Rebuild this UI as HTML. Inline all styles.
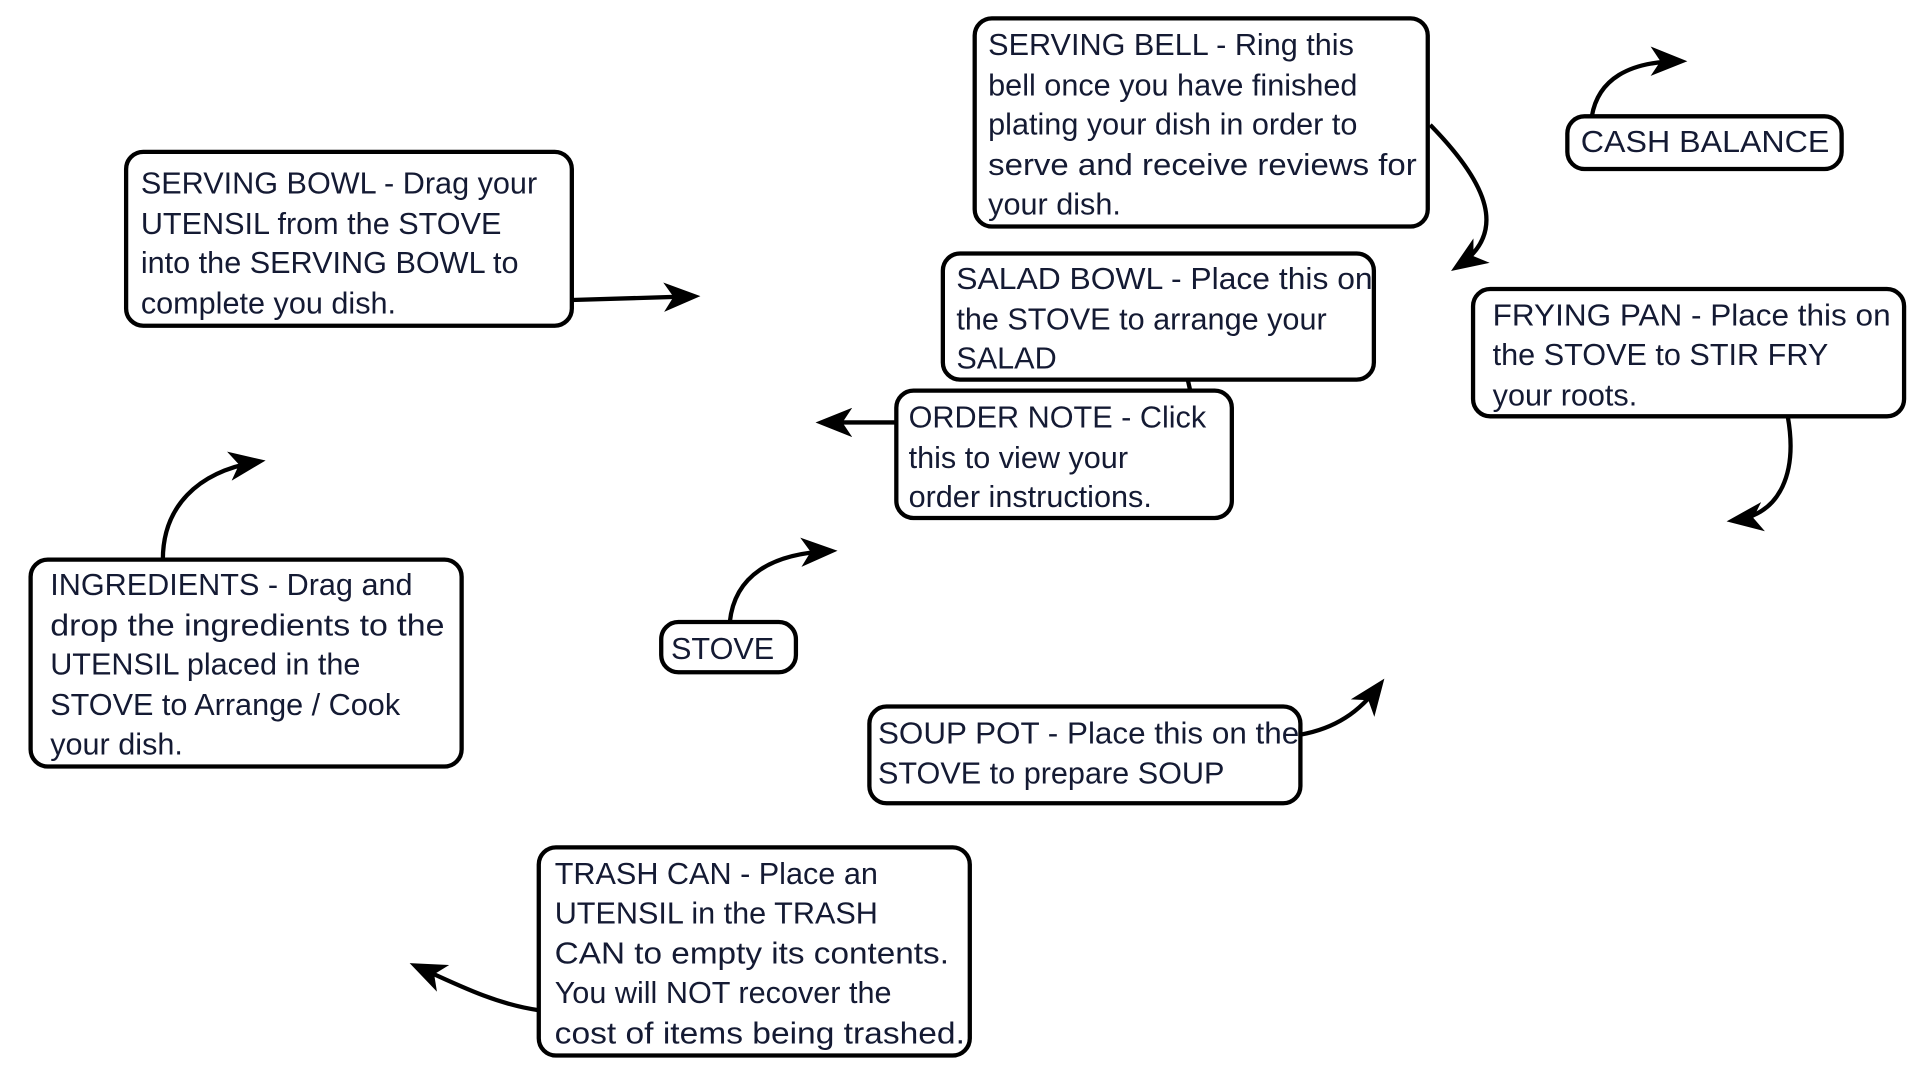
<!DOCTYPE html>
<html><head><meta charset="utf-8"><style>
html,body{margin:0;padding:0;background:#fff;width:1920px;height:1080px;overflow:hidden}
svg{display:block}
text{font-family:"Liberation Sans",sans-serif;font-size:25px;fill:#141a33}
rect{fill:#fff;stroke:#000;stroke-width:3.5}
path.c{fill:none;stroke:#000;stroke-width:3.5}
</style></head><body>
<svg width="1920" height="1080" viewBox="0 0 1568 882" preserveAspectRatio="none">
<defs>
<marker id="a" viewBox="0 0 30 24" refX="24" refY="12" markerWidth="30" markerHeight="24" markerUnits="userSpaceOnUse" orient="auto">
<path d="M0,0 L30,12 L0,24 L8,12 Z" fill="#000"/>
</marker>
</defs>
<path class="c" d="M467,245 L566,242" marker-end="url(#a)"/>
<path class="c" d="M1168,102 C1215,150 1232,190 1190,218" marker-end="url(#a)"/>
<path class="c" d="M1300,95 C1305,65 1330,50 1372,50" marker-end="url(#a)"/>
<path class="c" d="M970,310 L972,319"/>
<path class="c" d="M732,345 L672,345" marker-end="url(#a)"/>
<path class="c" d="M1460,340 C1468,385 1455,420 1416,425" marker-end="url(#a)"/>
<path class="c" d="M133,457 C133,415 160,385 211,377" marker-end="url(#a)"/>
<path class="c" d="M596,508 C600,470 630,452 678,450" marker-end="url(#a)"/>
<path class="c" d="M1062,600 C1090,595 1110,582 1127,559" marker-end="url(#a)"/>
<path class="c" d="M440,825 C405,820 375,805 340,789" marker-end="url(#a)"/>

<rect x="103" y="124" width="364" height="142" rx="14"/>
<text x="115" y="158">SERVING BOWL - Drag your</text>
<text x="115" y="191">UTENSIL from the STOVE</text>
<text x="115" y="223">into the SERVING BOWL to</text>
<text x="115" y="256">complete you dish.</text>

<rect x="796" y="15" width="370" height="170" rx="14"/>
<text x="807" y="45">SERVING BELL - Ring this</text>
<text x="807" y="78">bell once you have finished</text>
<text x="807" y="110">plating your dish in order to</text>
<text x="807" y="143" textLength="350" lengthAdjust="spacingAndGlyphs">serve and receive reviews for</text>
<text x="807" y="175">your dish.</text>

<rect x="1280" y="95" width="224" height="43" rx="14"/>
<text x="1291" y="124" textLength="203" lengthAdjust="spacingAndGlyphs">CASH BALANCE</text>

<rect x="770" y="207" width="352" height="103" rx="14"/>
<text x="781" y="236" textLength="340" lengthAdjust="spacingAndGlyphs">SALAD BOWL - Place this on</text>
<text x="781" y="269">the STOVE to arrange your</text>
<text x="781" y="301">SALAD</text>

<rect x="1203" y="236" width="352" height="104" rx="14"/>
<text x="1219" y="266" textLength="325" lengthAdjust="spacingAndGlyphs">FRYING PAN - Place this on</text>
<text x="1219" y="298">the STOVE to STIR FRY</text>
<text x="1219" y="331">your roots.</text>

<rect x="732" y="319" width="274" height="104" rx="14"/>
<text x="742" y="349">ORDER NOTE  - Click</text>
<text x="742" y="382">this to view your</text>
<text x="742" y="414">order instructions.</text>

<rect x="25" y="457" width="352" height="169" rx="14"/>
<text x="41" y="486">INGREDIENTS - Drag and</text>
<text x="41" y="519" textLength="322" lengthAdjust="spacingAndGlyphs">drop the ingredients to the</text>
<text x="41" y="551">UTENSIL placed in the</text>
<text x="41" y="584">STOVE to Arrange / Cook</text>
<text x="41" y="616">your dish.</text>

<rect x="540" y="508" width="110" height="41" rx="14"/>
<text x="548" y="538">STOVE</text>

<rect x="710" y="577" width="352" height="79" rx="14"/>
<text x="717" y="607" textLength="344" lengthAdjust="spacingAndGlyphs">SOUP POT - Place this on the</text>
<text x="717" y="640">STOVE to prepare SOUP</text>

<rect x="440" y="692" width="352" height="170" rx="14"/>
<text x="453" y="722">TRASH CAN - Place an</text>
<text x="453" y="754">UTENSIL in the TRASH</text>
<text x="453" y="787" textLength="322" lengthAdjust="spacingAndGlyphs">CAN to empty its contents.</text>
<text x="453" y="819">You will NOT recover the</text>
<text x="453" y="852" textLength="335" lengthAdjust="spacingAndGlyphs">cost of items being trashed.</text>
</svg>
</body></html>
